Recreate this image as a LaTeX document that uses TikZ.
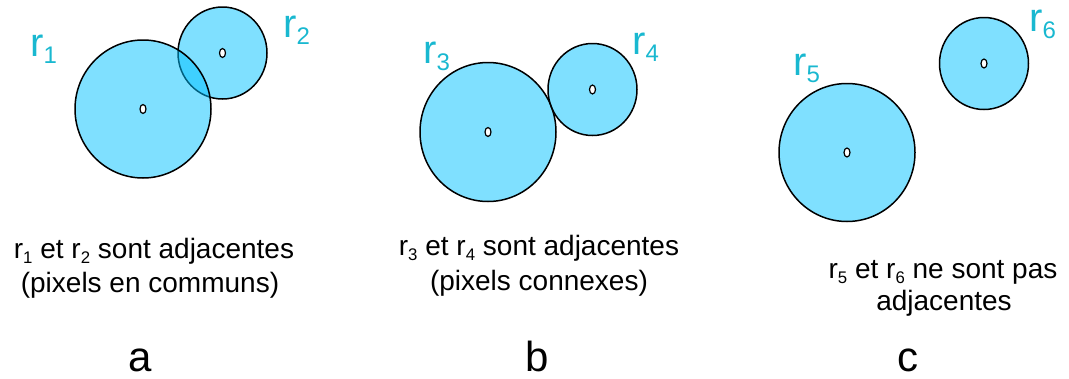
\documentclass[tikz,border=0pt]{standalone}
\usepackage{fontspec}
\setmainfont{Liberation Sans}
\usepackage{graphicx}
\definecolor{regfill}{RGB}{0,193,255}
\definecolor{regname}{RGB}{25,184,208}
\tikzset{
  blob/.style = {draw=black, line width=1.5pt, fill=regfill, fill opacity=0.5},
  seed/.style = {draw=black, line width=1.2pt, fill=white},
  rlbl/.style = {font=\fontsize{40}{40}\selectfont, text=regname, anchor=base west,
                 inner sep=0pt, text height=0.55em},
  capt/.style = {font=\fontsize{28}{34}\selectfont, anchor=base, inner sep=0pt},
  tag/.style  = {font=\fontsize{42}{42}\selectfont, anchor=base, inner sep=0pt},
}
\newcommand{\regionblob}[4]{%
  \draw[blob] (#1,#2) ellipse [x radius=#3pt, y radius=#4pt];
  \draw[seed] (#1,#2) ellipse [x radius=3pt, y radius=4.5pt];
}
\newcommand{\rsub}[1]{r\raisebox{-0.18em}{\scalebox{0.6}{#1}}}

\begin{document}
\begin{tikzpicture}[x=1pt, y=-1pt]
  \useasboundingbox (0,0) rectangle (1069,378);
  % a : pixels en communs
  \regionblob{222.5}{53}{44.5}{46}
  \regionblob{143}{109}{68}{69}
  \node[rlbl] (r1) at (30,56) {\rsub{1}};
  \node[rlbl] (r2) at (283,37) {\rsub{2}};
  \node[capt] (capA1) at (154,258) {\rsub{1} et \rsub{2} sont adjacentes};
  \node[capt] (capA2) at (150,292) {(pixels en communs)};
  \node[tag] (tagA) at (140,371) {a};
  % b : pixels connexes
  \regionblob{488}{132}{68}{69.5}
  \regionblob{592.5}{89.5}{44.5}{46}
  \node[rlbl] (r3) at (423,63) {\rsub{3}};
  \node[rlbl] (r4) at (632,54) {\rsub{4}};
  \node[capt] (capB1) at (539,255) {\rsub{3} et \rsub{4} sont adjacentes};
  \node[capt] (capB2) at (539,290) {(pixels connexes)};
  \node[tag] (tagB) at (537,371) {b};
  % c : disjointes
  \regionblob{847}{152.5}{68}{69}
  \regionblob{984}{63.5}{44.5}{46}
  \node[rlbl] (r5) at (793,75) {\rsub{5}};
  \node[rlbl] (r6) at (1029,31) {\rsub{6}};
  \node[capt] (capC1) at (943,278) {\rsub{5} et \rsub{6} ne sont pas};
  \node[capt] (capC2) at (944,310) {adjacentes};
  \node[tag] (tagC) at (908,371) {c};
\end{tikzpicture}
\end{document}
